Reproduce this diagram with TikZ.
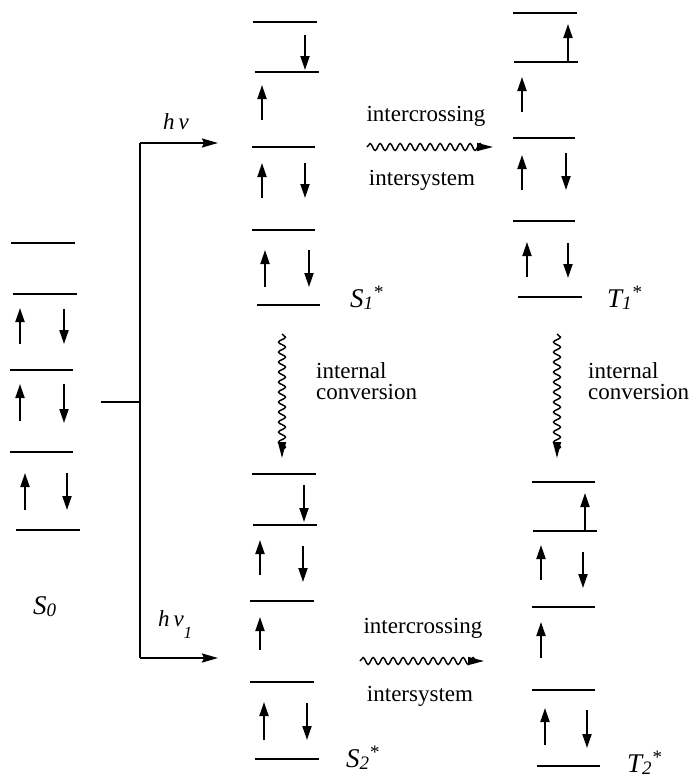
\documentclass[tikz,border=0pt]{standalone}
\usepackage{fontspec}
\setmainfont{Liberation Serif}
\usetikzlibrary{arrows.meta,decorations.pathmorphing}

% one orbital level: x-from, x-to, y
\newcommand\enlevel[3]{\draw[levelline] (#1,#3) -- (#2,#3);}
% one electron spin: x, y-start, y-end
\newcommand\spinarrow[3]{\draw[spin] (#1,#2) -- (#1,#3);}
% state symbol with index and optional star
\newcommand\stindex[1]{\raisebox{-2pt}{\fontsize{19}{19}\selectfont\itshape #1}}
\newcommand\ststar{\hspace{1pt}\raisebox{9pt}{\fontsize{19}{19}\selectfont\upshape *}}

\begin{document}
\begin{tikzpicture}[x=1pt,y=-1pt,
  levelline/.style={line width=2pt},
  spin/.style={line width=2pt,-{Triangle[length=14pt,width=9pt]}},
  branch/.style={line width=2pt},
  photon/.style={line width=2pt,-{Stealth[length=16pt,width=9pt,inset=2pt]}},
  wavy/.style={line width=1.4pt,decorate,
    decoration={snake,segment length=10pt,amplitude=3.5pt,post length=6pt},
    -{Triangle[length=16pt,width=8pt]}},
  txt/.style={font=\fontsize{23}{21}\selectfont,inner sep=0pt},
  statelbl/.style={font=\fontsize{27}{28}\selectfont\itshape,inner sep=0pt,anchor=base west},
  hv/.style={font=\fontsize{23}{24}\selectfont\itshape,inner sep=0pt,anchor=base west}]

\useasboundingbox (0,0) rectangle (691,777);

% ---------- ground state S0 ----------
\enlevel{11}{75}{243}
\enlevel{13}{77}{294}
\enlevel{10}{73}{370}
\enlevel{10}{73}{452}
\enlevel{16}{80}{530}
\spinarrow{20}{344}{308} \spinarrow{64}{309}{344}
\spinarrow{20}{421}{384} \spinarrow{64}{384}{423}
\spinarrow{25}{510}{473} \spinarrow{67}{473}{510}
\node[statelbl] (s0lbl) at (33,614) {S\stindex{0}};

% ---------- excitation branches ----------
\coordinate (s0out) at (101,402);
\coordinate (fork) at (140,402);
\coordinate (forktop) at (140,143);
\coordinate (forkbot) at (140,658);
\coordinate (s1in) at (218,143);
\coordinate (s2in) at (218,658);
\draw[branch] (s0out) -- (fork);
\draw[branch] (forktop) -- (forkbot);
\draw[photon] (forktop) -- (s1in);
\draw[photon] (forkbot) -- (s2in);
\node[hv] (hv1) at (163,129) {h\,ν};
\node[hv] (hv2) at (158,626) {h\,ν\raisebox{-12pt}{\fontsize{17}{17}\selectfont 1}};

% ---------- S1* ----------
\enlevel{253}{317}{22}
\enlevel{255}{319}{72}
\enlevel{252}{315}{147}
\enlevel{252}{315}{230}
\enlevel{257}{320}{305}
\spinarrow{305}{35}{70}
\spinarrow{262}{120}{85}
\spinarrow{262}{198}{163} \spinarrow{305}{163}{198}
\spinarrow{265}{287}{250} \spinarrow{309}{250}{287}
\node[statelbl] (s1lbl) at (350,307) {S\stindex{1}\ststar};

% ---------- T1* ----------
\enlevel{513}{577}{13}
\enlevel{514}{578}{62}
\enlevel{513}{575}{138}
\enlevel{513}{575}{221}
\enlevel{518}{582}{297}
\spinarrow{568}{62}{24}
\spinarrow{522}{112}{77}
\spinarrow{522}{190}{155} \spinarrow{566}{153}{190}
\spinarrow{527}{277}{242} \spinarrow{568}{243}{278}
\node[statelbl] (t1lbl) at (607,307) {T\stindex{1}\ststar};

% ---------- S2* ----------
\enlevel{252}{316}{474}
\enlevel{253}{317}{525}
\enlevel{250}{314}{601}
\enlevel{250}{314}{682}
\enlevel{255}{319}{759}
\spinarrow{304}{485}{522}
\spinarrow{260}{575}{540} \spinarrow{303}{546}{582}
\spinarrow{260}{650}{617}
\spinarrow{264}{740}{702} \spinarrow{307}{703}{740}
\node[statelbl] (s2lbl) at (346,767) {S\stindex{2}\ststar};

% ---------- T2* ----------
\enlevel{532}{595}{482}
\enlevel{533}{597}{531}
\enlevel{532}{595}{607}
\enlevel{532}{595}{690}
\enlevel{537}{600}{766}
\spinarrow{585}{531}{493}
\spinarrow{541}{580}{545} \spinarrow{583}{552}{588}
\spinarrow{541}{658}{622}
\spinarrow{545}{745}{708} \spinarrow{587}{710}{748}
\node[statelbl] (t2lbl) at (627,772) {T\stindex{2}\ststar};

% ---------- intersystem crossing ----------
\coordinate (isc1a) at (367,147);
\coordinate (isc1b) at (493,147);
\draw[wavy] (isc1a) -- (isc1b);
\node[txt] (isc1top) at (426,116) {intercrossing};
\node[txt] (isc1bot) at (422,180) {intersystem};

\coordinate (isc2a) at (360,661);
\coordinate (isc2b) at (484,661);
\draw[wavy] (isc2a) -- (isc2b);
\node[txt] (isc2top) at (423,628) {intercrossing};
\node[txt] (isc2bot) at (420,696) {intersystem};

% ---------- internal conversion ----------
\coordinate (ic1a) at (282,334);
\coordinate (ic1b) at (282,458);
\draw[wavy] (ic1a) -- (ic1b);
\node[txt,anchor=west,align=left] (ic1lbl) at (316,381) {internal\\conversion};

\coordinate (ic2a) at (557,334);
\coordinate (ic2b) at (557,458);
\draw[wavy] (ic2a) -- (ic2b);
\node[txt,anchor=west,align=left] (ic2lbl) at (588,381) {internal\\conversion};

\end{tikzpicture}
\end{document}
